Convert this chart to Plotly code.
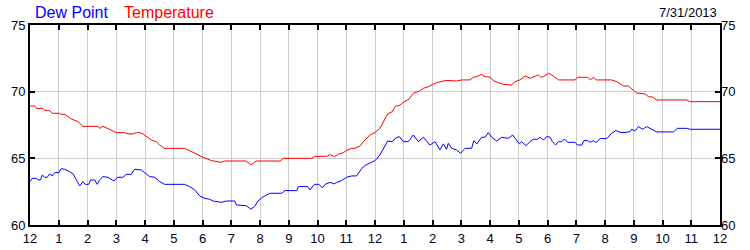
import plotly.graph_objects as go

# Hours since midnight (7/31/2013) and readings in °F
temp_hours = [0.0, 0.16, 0.22, 0.45, 0.51, 0.68, 0.77, 1.03, 1.09, 1.21, 1.32, 1.44, 1.67, 1.84, 2.36, 2.42, 2.54, 2.71, 2.89, 3.00,
              3.29, 3.41, 3.58, 3.70, 3.81, 3.93, 4.05, 4.22, 4.39, 4.51, 4.68, 5.09, 5.21, 5.38, 5.50, 5.67, 5.84, 6.02, 6.31, 6.65,
              6.77, 7.52, 7.68, 7.87, 8.70, 8.81, 9.80, 9.91, 10.32, 10.44, 10.59, 10.72, 10.90, 11.01, 11.19, 11.30, 11.48, 11.65, 11.83, 12.00,
              12.17, 12.29, 12.44, 12.60, 12.70, 12.87, 13.04, 13.18, 13.33, 13.51, 13.68, 13.86, 14.03, 14.20, 14.43, 14.61, 14.84, 15.01, 15.30, 15.42,
              15.54, 15.71, 15.83, 16.00, 16.12, 16.29, 16.46, 16.75, 16.87, 17.04, 17.22, 17.39, 17.57, 17.68, 17.76, 17.86, 18.03, 18.15, 18.38, 18.96,
              19.04, 19.39, 19.50, 19.59, 19.71, 20.23, 20.41, 20.64, 20.81, 20.93, 21.10, 21.39, 21.51, 21.68, 21.77, 22.84, 22.96, 24.00]
temperature = [68.93, 68.93, 68.75, 68.75, 68.60, 68.60, 68.38, 68.38, 68.30, 68.30, 68.13, 67.95, 67.75, 67.40, 67.40, 67.25, 67.40, 67.25, 67.05, 66.93,
               66.93, 66.83, 66.83, 66.93, 66.93, 66.83, 66.63, 66.38, 66.25, 66.00, 65.75, 65.75, 65.70, 65.75, 65.63, 65.45, 65.25, 65.08, 64.83, 64.70,
               64.80, 64.80, 64.50, 64.80, 64.80, 65.00, 65.00, 65.15, 65.15, 65.28, 65.13, 65.30, 65.43, 65.60, 65.75, 65.75, 65.93, 66.38, 66.75, 66.93,
               67.25, 67.75, 68.33, 68.50, 68.88, 69.00, 69.28, 69.43, 69.88, 70.00, 70.25, 70.38, 70.58, 70.70, 70.83, 70.83, 70.80, 70.88, 70.88, 71.08,
               71.13, 71.30, 71.13, 71.08, 70.83, 70.68, 70.55, 70.50, 70.75, 70.88, 71.18, 71.00, 71.13, 71.25, 71.08, 71.13, 71.38, 71.25, 70.88, 70.88,
               71.08, 71.08, 70.88, 71.08, 70.88, 70.88, 70.75, 70.43, 70.43, 70.18, 69.90, 69.83, 69.63, 69.58, 69.38, 69.38, 69.25, 69.25]

dew_hours = [0.0, 0.07, 0.22, 0.28, 0.37, 0.43, 0.51, 0.60, 0.68, 0.77, 0.86, 1.00, 1.09, 1.21, 1.38, 1.50, 1.61, 1.73, 1.84, 1.92,
             2.04, 2.11, 2.25, 2.34, 2.42, 2.54, 2.71, 2.83, 2.92, 3.04, 3.23, 3.35, 3.52, 3.64, 3.87, 3.99, 4.16, 4.34, 4.51, 4.68,
             5.03, 5.21, 5.38, 5.55, 5.73, 5.90, 6.08, 6.25, 6.37, 6.66, 6.83, 7.12, 7.18, 7.52, 7.68, 7.81, 7.93, 8.10, 8.35, 8.75,
             8.87, 9.28, 9.33, 9.66, 9.74, 9.89, 10.05, 10.17, 10.26, 10.44, 10.57, 10.67, 10.84, 11.01, 11.19, 11.36, 11.54, 11.68, 11.83, 12.00,
             12.17, 12.29, 12.44, 12.61, 12.70, 12.85, 12.99, 13.16, 13.33, 13.51, 13.68, 13.91, 14.09, 14.26, 14.38, 14.49, 14.55, 14.67, 14.84, 14.98,
             15.13, 15.36, 15.44, 15.54, 15.71, 15.83, 15.94, 16.06, 16.23, 16.41, 16.64, 16.79, 16.93, 17.02, 17.10, 17.25, 17.39, 17.51, 17.65, 17.74,
             17.86, 17.97, 18.09, 18.17, 18.28, 18.38, 18.49, 18.59, 18.70, 18.96, 19.04, 19.19, 19.27, 19.39, 19.50, 19.59, 19.69, 19.83, 20.06, 20.23,
             20.38, 20.55, 20.73, 20.87, 20.93, 21.04, 21.16, 21.31, 21.45, 21.57, 21.70, 21.80, 22.38, 22.52, 22.84, 22.96, 24.00]
dew_point = [63.25, 63.50, 63.50, 63.38, 63.38, 63.75, 63.58, 63.58, 63.83, 63.68, 63.93, 63.93, 64.23, 64.18, 64.00, 63.83, 63.38, 62.93, 63.25, 63.05,
             63.05, 63.38, 63.38, 63.05, 63.38, 63.63, 63.58, 63.38, 63.30, 63.58, 63.58, 63.80, 63.80, 64.18, 64.13, 63.93, 63.63, 63.58, 63.25, 63.05,
             63.05, 63.00, 63.05, 62.88, 62.63, 62.18, 62.00, 61.93, 61.80, 61.70, 61.80, 61.80, 61.50, 61.45, 61.18, 61.38, 61.80, 62.10, 62.38, 62.38,
             62.58, 62.58, 62.88, 62.88, 62.63, 63.05, 63.05, 62.78, 63.05, 63.20, 63.08, 63.20, 63.33, 63.58, 63.68, 63.68, 64.25, 64.50, 64.63, 64.83,
             65.25, 65.75, 66.30, 66.25, 66.50, 66.63, 66.25, 66.25, 66.75, 66.25, 66.58, 66.00, 66.25, 65.63, 66.08, 65.68, 66.13, 65.75, 65.63, 65.38,
             65.75, 65.75, 66.33, 66.08, 66.58, 66.58, 66.93, 66.58, 66.30, 66.58, 66.50, 66.75, 66.38, 66.08, 66.25, 65.95, 66.25, 66.43, 66.43, 66.58,
             66.38, 66.63, 66.58, 66.25, 66.00, 66.25, 66.25, 66.45, 66.20, 66.20, 66.00, 66.00, 66.33, 66.33, 66.20, 66.33, 66.18, 66.48, 66.48, 66.88,
             67.08, 66.93, 66.95, 67.00, 67.18, 67.05, 67.38, 67.18, 67.38, 67.25, 67.13, 66.98, 66.98, 67.25, 67.25, 67.18, 67.18]

tick_hours = list(range(0, 25))
tick_labels = ["12"] + [str(h) for h in range(1, 12)] + ["12"] + [str(h) for h in range(1, 12)] + ["12"]
y_ticks = [60, 65, 70, 75]

FONT = "Liberation Sans, Arial, sans-serif"
TXT = "#000022"

fig = go.Figure()
fig.add_trace(go.Scatter(x=dew_hours, y=dew_point, mode="lines",
                         line=dict(color="#0000ff", width=1), showlegend=False))
fig.add_trace(go.Scatter(x=temp_hours, y=temperature, mode="lines",
                         line=dict(color="#ff0000", width=1), showlegend=False))
fig.add_trace(go.Scatter(x=[None], y=[None], yaxis="y2", showlegend=False, hoverinfo="skip"))

fig.update_layout(
    width=750, height=250,
    margin=dict(l=30, r=30, t=25, b=25),
    paper_bgcolor="white", plot_bgcolor="white",
    font=dict(family=FONT, size=13, color=TXT),
    xaxis=dict(range=[0, 24], tickmode="array", tickvals=tick_hours, ticktext=tick_labels,
               showgrid=True, gridcolor="#cccccc", gridwidth=1,
               showline=True, linecolor="black", linewidth=2, mirror="ticks",
               ticks="inside", ticklen=5, tickwidth=1.5, tickcolor="black",
               zeroline=False, automargin=False,
               tickfont=dict(size=13, color=TXT)),
    yaxis=dict(range=[60, 75], tickmode="array", tickvals=y_ticks,
               showgrid=True, gridcolor="#cccccc", gridwidth=1,
               showline=True, linecolor="black", linewidth=2, mirror="ticks",
               ticks="inside", ticklen=5, tickwidth=1.5, tickcolor="black",
               zeroline=False, automargin=False, tickfont=dict(size=13, color=TXT)),
    yaxis2=dict(range=[60, 75], overlaying="y", side="right", tickmode="array", tickvals=y_ticks,
                showgrid=False, showline=False, ticks="", zeroline=False, automargin=False,
                tickfont=dict(size=13, color=TXT)),
    annotations=[
        dict(text="Dew Point", x=(33 - 30) / 690, y=(225 - 12) / 200, xref="paper", yref="paper",
             xanchor="left", yanchor="middle", showarrow=False, font=dict(size=16, color="#0000ff", family=FONT)),
        dict(text="Temperature", x=(122 - 30) / 690, y=(225 - 12) / 200, xref="paper", yref="paper",
             xanchor="left", yanchor="middle", showarrow=False, font=dict(size=16, color="#ff0000", family=FONT)),
        dict(text="7/31/2013", x=(719 - 30) / 690, y=(225 - 12) / 200, xref="paper", yref="paper",
             xanchor="right", yanchor="middle", showarrow=False, font=dict(size=13, color=TXT, family=FONT)),
    ],
)

fig.write_html("out.html")
